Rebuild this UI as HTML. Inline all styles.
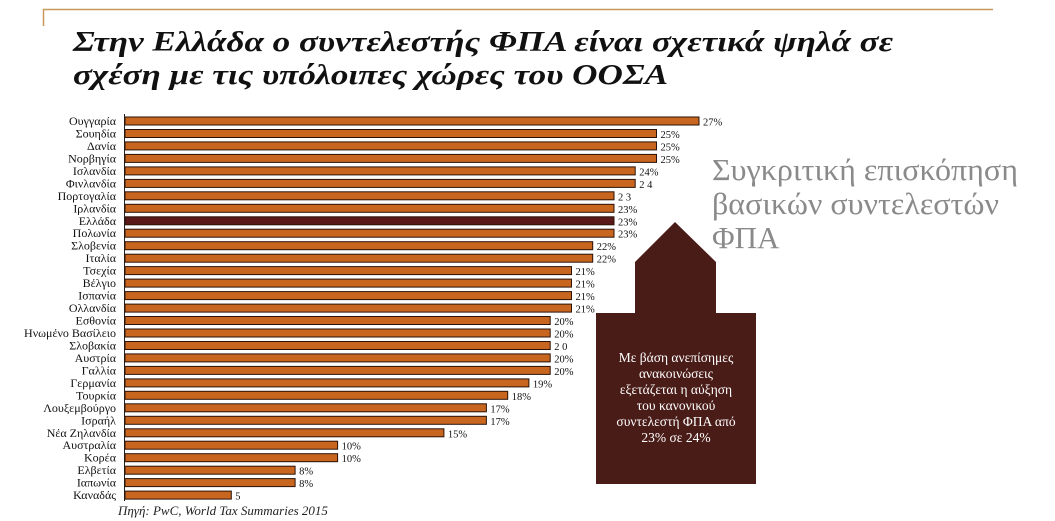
<!DOCTYPE html>
<html><head><meta charset="utf-8"><style>
html,body{margin:0;padding:0;background:#fff;}
svg{display:block;}
</style></head><body>
<svg width="1055" height="521" viewBox="0 0 1055 521" xmlns="http://www.w3.org/2000/svg" font-family="'Liberation Serif', 'DejaVu Serif', serif">
<line x1="43" y1="9.5" x2="993" y2="9.5" stroke="#c8975a" stroke-width="1.5"/>
<line x1="43.5" y1="9" x2="43.5" y2="26" stroke="#c8975a" stroke-width="1.5"/>
<text x="73" y="51" font-size="29" font-weight="bold" font-style="italic" fill="#111" textLength="820" lengthAdjust="spacingAndGlyphs">Στην Ελλάδα ο συντελεστής ΦΠΑ είναι σχετικά ψηλά σε</text>
<text x="73" y="84" font-size="29" font-weight="bold" font-style="italic" fill="#111" textLength="595" lengthAdjust="spacingAndGlyphs">σχέση με τις υπόλοιπες χώρες του ΟΟΣΑ</text>
<g font-size="31" fill="#8a8a8a">
<text x="712" y="180" textLength="306" lengthAdjust="spacingAndGlyphs">Συγκριτική επισκόπηση</text>
<text x="712" y="214" textLength="287" lengthAdjust="spacingAndGlyphs">βασικών συντελεστών</text>
<text x="712" y="248">ΦΠΑ</text>
</g>
<polygon points="675,222 716,262 716,313 756,313 756,484 596,484 596,313 635,313 635,262" fill="#4a1c18"/>
<g font-size="13.5" fill="#fff" text-anchor="middle">
<text x="676" y="362">Με βάση ανεπίσημες</text>
<text x="676" y="378">ανακοινώσεις</text>
<text x="676" y="394">εξετάζεται η αύξηση</text>
<text x="676" y="410">του κανονικού</text>
<text x="676" y="426">συντελεστή ΦΠΑ από</text>
<text x="676" y="442">23% σε 24%</text>
</g>
<line x1="124.5" y1="114" x2="124.5" y2="501" stroke="#222" stroke-width="1"/>
<g fill="#c8661f" stroke="#2a1208" stroke-width="1">
<rect x="125" y="117" width="574" height="8"/>
<rect x="125" y="129.5" width="531.5" height="8"/>
<rect x="125" y="141.9" width="531.5" height="8"/>
<rect x="125" y="154.4" width="531.5" height="8"/>
<rect x="125" y="166.9" width="510.2" height="8"/>
<rect x="125" y="179.4" width="510.2" height="8"/>
<rect x="125" y="191.8" width="489" height="8"/>
<rect x="125" y="204.3" width="489" height="8"/>
<rect x="125" y="216.8" width="489" height="8" fill="#5a1a1a"/>
<rect x="125" y="229.2" width="489" height="8"/>
<rect x="125" y="241.7" width="467.7" height="8"/>
<rect x="125" y="254.2" width="467.7" height="8"/>
<rect x="125" y="266.6" width="446.5" height="8"/>
<rect x="125" y="279.1" width="446.5" height="8"/>
<rect x="125" y="291.6" width="446.5" height="8"/>
<rect x="125" y="304.1" width="446.5" height="8"/>
<rect x="125" y="316.5" width="425.2" height="8"/>
<rect x="125" y="329" width="425.2" height="8"/>
<rect x="125" y="341.5" width="425.2" height="8"/>
<rect x="125" y="353.9" width="425.2" height="8"/>
<rect x="125" y="366.4" width="425.2" height="8"/>
<rect x="125" y="378.9" width="403.9" height="8"/>
<rect x="125" y="391.3" width="382.7" height="8"/>
<rect x="125" y="403.8" width="361.4" height="8"/>
<rect x="125" y="416.3" width="361.4" height="8"/>
<rect x="125" y="428.8" width="318.9" height="8"/>
<rect x="125" y="441.2" width="212.6" height="8"/>
<rect x="125" y="453.7" width="212.6" height="8"/>
<rect x="125" y="466.2" width="170.1" height="8"/>
<rect x="125" y="478.6" width="170.1" height="8"/>
<rect x="125" y="491.1" width="106.3" height="8"/>
</g>
<g font-size="12" fill="#111" text-anchor="end">
<text x="116" y="125">Ουγγαρία</text>
<text x="116" y="137.5">Σουηδία</text>
<text x="116" y="149.9">Δανία</text>
<text x="116" y="162.4">Νορβηγία</text>
<text x="116" y="174.9">Ισλανδία</text>
<text x="116" y="187.4">Φινλανδία</text>
<text x="116" y="199.8">Πορτογαλία</text>
<text x="116" y="212.3">Ιρλανδία</text>
<text x="116" y="224.8">Ελλάδα</text>
<text x="116" y="237.2">Πολωνία</text>
<text x="116" y="249.7">Σλοβενία</text>
<text x="116" y="262.2">Ιταλία</text>
<text x="116" y="274.6">Τσεχία</text>
<text x="116" y="287.1">Βέλγιο</text>
<text x="116" y="299.6">Ισπανία</text>
<text x="116" y="312.1">Ολλανδία</text>
<text x="116" y="324.5">Εσθονία</text>
<text x="116" y="337">Ηνωμένο Βασίλειο</text>
<text x="116" y="349.5">Σλοβακία</text>
<text x="116" y="361.9">Αυστρία</text>
<text x="116" y="374.4">Γαλλία</text>
<text x="116" y="386.9">Γερμανία</text>
<text x="116" y="399.3">Τουρκία</text>
<text x="116" y="411.8">Λουξεμβούργο</text>
<text x="116" y="424.3">Ισραήλ</text>
<text x="116" y="436.8">Νέα Ζηλανδία</text>
<text x="116" y="449.2">Αυστραλία</text>
<text x="116" y="461.7">Κορέα</text>
<text x="116" y="474.2">Ελβετία</text>
<text x="116" y="486.6">Ιαπωνία</text>
<text x="116" y="499.1">Καναδάς</text>
</g>
<g font-size="10.5" fill="#111">
<text x="703" y="125.5">27%</text>
<text x="660.5" y="138">25%</text>
<text x="660.5" y="150.4">25%</text>
<text x="660.5" y="162.9">25%</text>
<text x="639.2" y="175.4">24%</text>
<text x="639.2" y="187.9">2 4</text>
<text x="618" y="200.3">2 3</text>
<text x="618" y="212.8">23%</text>
<text x="618" y="225.3">23%</text>
<text x="618" y="237.7">23%</text>
<text x="596.7" y="250.2">22%</text>
<text x="596.7" y="262.7">22%</text>
<text x="575.5" y="275.1">21%</text>
<text x="575.5" y="287.6">21%</text>
<text x="575.5" y="300.1">21%</text>
<text x="575.5" y="312.6">21%</text>
<text x="554.2" y="325">20%</text>
<text x="554.2" y="337.5">20%</text>
<text x="554.2" y="350">2 0</text>
<text x="554.2" y="362.4">20%</text>
<text x="554.2" y="374.9">20%</text>
<text x="532.9" y="387.4">19%</text>
<text x="511.7" y="399.8">18%</text>
<text x="490.4" y="412.3">17%</text>
<text x="490.4" y="424.8">17%</text>
<text x="447.9" y="437.3">15%</text>
<text x="341.6" y="449.7">10%</text>
<text x="341.6" y="462.2">10%</text>
<text x="299.1" y="474.7">8%</text>
<text x="299.1" y="487.1">8%</text>
<text x="235.3" y="499.6">5</text>
</g>
<text x="118" y="515" font-size="13" font-style="italic" fill="#222">Πηγή: PwC, World Tax Summaries 2015</text>
</svg>
</body></html>
